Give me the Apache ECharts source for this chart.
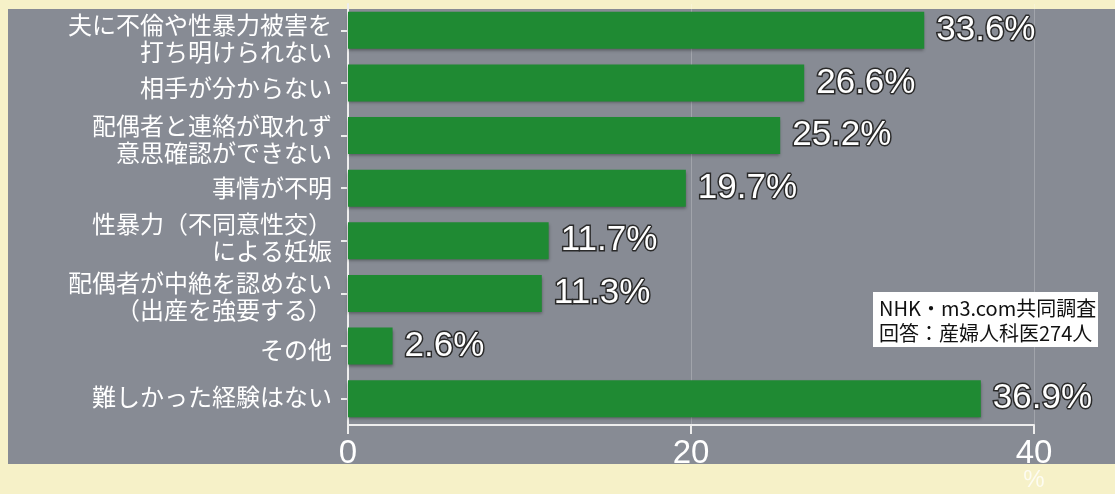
<!DOCTYPE html>
<html>
<head>
<meta charset="utf-8">
<script src="https://cdn.jsdelivr.net/npm/echarts@6/dist/echarts.min.js"></script>
<style>
html,body{margin:0;padding:0;background:#f6f1c8;}
#c{width:1115px;height:494px;}
</style>
</head>
<body>
<div id="c"></div>
<script>
const categories = [
  '夫に不倫や性暴力被害を\n打ち明けられない',
  '相手が分からない',
  '配偶者と連絡が取れず\n意思確認ができない',
  '事情が不明',
  '性暴力（不同意性交）\nによる妊娠',
  '配偶者が中絶を認めない\n（出産を強要する）',
  'その他',
  '難しかった経験はない'
];
const values = [33.6, 26.6, 25.2, 19.7, 11.7, 11.3, 2.6, 36.9];
const xTicks = [0, 20, 40];
const unitLabel = '%';
const noteLines = ['NHK・m3.com共同調査', '回答：産婦人科医274人'];

// vertical nudge (px, downward) of each category label relative to its tick — styling only
const labelNudge = [8, 5, 4, 0, -3, 3, 4, -2];

const baseTxt = {color: '#ffffff', fontSize: 24, lineHeight: 27, fontFamily: '"Noto Sans CJK JP", sans-serif'};
const rich = {n: Object.assign({}, baseTxt)};
labelNudge.forEach((n, i) => {
  rich['s' + i] = {fontSize: 1, lineHeight: Math.max(1, 2 * Math.abs(n)), color: 'rgba(0,0,0,0)'};
});
function catFormatter(value, index) {
  const lines = value.split('\n').map(ln => '{n|' + ln + '}');
  const n = labelNudge[index] || 0;
  if (n > 0) lines.unshift('{s' + index + '| }');
  if (n < 0) lines.push('{s' + index + '| }');
  return lines.join('\n');
}

const chart = echarts.init(document.getElementById('c'));
chart.setOption({
  backgroundColor: '#f6f1c8',
  animation: false,
  grid: {left: 348, right: 81, top: 4, bottom: 69, containLabel: false, outerBoundsMode: 'none'},
  xAxis: {
    type: 'value', min: 0, max: 40, interval: 20,
    axisLine: {show: true, lineStyle: {color: '#eeeeee', width: 2}},
    axisTick: {show: true, length: 9, lineStyle: {color: '#eeeeee', width: 2}},
    splitLine: {show: true, lineStyle: {color: 'rgba(255,255,255,0.22)', width: 1}},
    axisLabel: {color: '#ffffff', fontSize: 33, fontFamily: 'Liberation Sans, Arial, sans-serif', margin: 12,
      formatter: v => xTicks.includes(v) ? String(v) : ''}
  },
  yAxis: {
    type: 'category', data: categories, inverse: true,
    axisLine: {show: true, lineStyle: {color: '#eeeeee', width: 2}},
    axisTick: {show: true, alignWithLabel: true, length: 7, lineStyle: {color: '#eeeeee', width: 2}},
    axisLabel: Object.assign({}, baseTxt, {margin: 16, interval: 0,
      showMinLabel: true, showMaxLabel: true, hideOverlap: false,
      formatter: catFormatter, rich: rich})
  },
  series: [{
    type: 'bar', data: values, barWidth: 37,
    itemStyle: {color: '#1f8a33', shadowColor: 'rgba(0,0,0,0.35)', shadowBlur: 3, shadowOffsetY: 2},
    label: {
      show: true, position: 'right', distance: 12,
      formatter: p => p.value.toFixed(1) + '%',
      color: '#ffffff', fontSize: 35, fontFamily: 'Liberation Sans, Arial, sans-serif',
      textBorderColor: '#2a2a2a', textBorderWidth: 3
    }
  }],
  graphic: [
    {type: 'rect', z: -10, silent: true, shape: {x: 8, y: 9, width: 1107, height: 455}, style: {fill: '#878b94'}},
    {type: 'rect', z: 100, silent: true, shape: {x: 0, y: 464, width: 1115, height: 30}, style: {fill: '#f6f1c8'}},
    {type: 'text', z: 101, silent: true, x: 1034, y: 480,
      style: {text: unitLabel, fill: 'rgba(255,255,255,0.75)', fontSize: 24, fontFamily: 'Liberation Sans, Arial, sans-serif', align: 'center', verticalAlign: 'middle'}},
    {type: 'rect', z: 50, silent: true, shape: {x: 873, y: 292, width: 225, height: 55}, style: {fill: '#ffffff'}},
    {type: 'text', z: 51, silent: true, x: 879, y: 308,
      style: {text: noteLines[0], fill: '#111111', fontSize: 20, fontFamily: '"Noto Sans CJK JP", sans-serif', verticalAlign: 'middle'}},
    {type: 'text', z: 51, silent: true, x: 879, y: 333,
      style: {text: noteLines[1], fill: '#111111', fontSize: 20, fontFamily: '"Noto Sans CJK JP", sans-serif', verticalAlign: 'middle'}}
  ]
});
</script>
</body>
</html>
